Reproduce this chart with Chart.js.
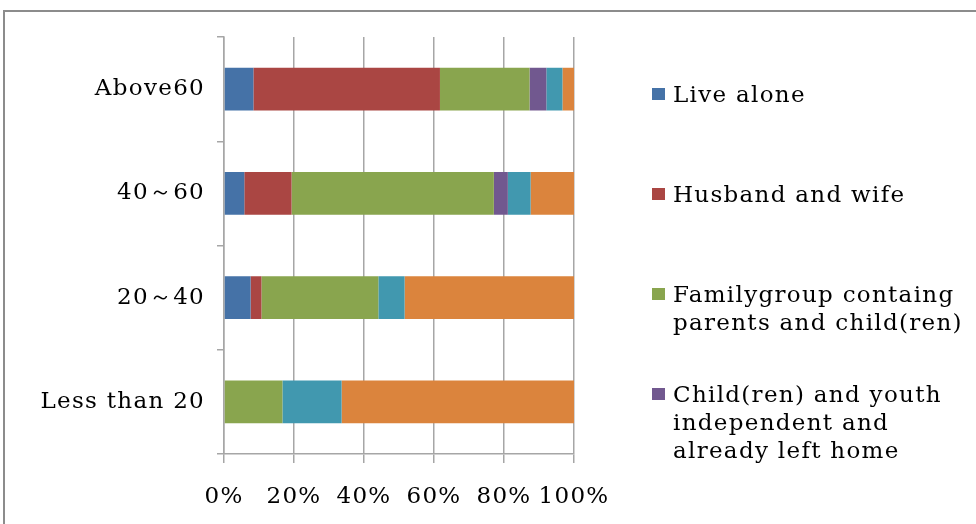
<!DOCTYPE html>
<html>
<head>
<meta charset="utf-8">
<script src="https://cdn.jsdelivr.net/npm/chart.js@4"></script>
<style>
  html, body { margin: 0; padding: 0; background: #fff; }
  #wrap { width: 976px; height: 524px; }
</style>
</head>
<body>
<div id="wrap"><canvas id="household"></canvas></div>
<script>
// age groups (top to bottom) and share of each household type, in %
const ageGroups = ['Above60', '40～60', '20～40', 'Less than 20'];
const liveAlone   = [8.4, 5.8, 7.6, 0];
const husbandWife = [53.3, 13.5, 3.1, 0];
const familyGroup = [25.6, 57.8, 33.4, 16.7];
const leftHome    = [4.8, 4.0, 0, 0];
const groupFive   = [4.6, 6.5, 7.5, 16.9];
const groupSix    = [3.3, 12.4, 48.4, 66.4];
const pctTicks = [0, 20, 40, 60, 80, 100];

// legend text, one array of lines per series (only the first four fit)
const legendLines = [
  ['Live alone'],
  ['Husband and wife'],
  ['Familygroup containg', 'parents and child(ren)'],
  ['Child(ren) and youth', 'independent and', 'already left home']
];

const serif = '"DejaVu Serif", "Liberation Serif", serif';
const gridGrey = '#a6a6a6';
const spacing = '1.3px';

// outer frame of the chart box, plus wider letter spacing for all text
const frame = {
  id: 'frame',
  beforeDraw(chart) {
    const ctx = chart.ctx;
    ctx.save();
    ctx.fillStyle = '#fff';
    ctx.fillRect(0, 0, chart.width, chart.height);
    ctx.strokeStyle = '#8c8c8c';
    ctx.lineWidth = 2;
    ctx.strokeRect(4, 11, 1100, 700);
    ctx.restore();
    ctx.letterSpacing = spacing;
  }
};

// legend on the right, drawn by hand so labels can wrap
const sideLegend = {
  id: 'sideLegend',
  afterDraw(chart) {
    const ctx = chart.ctx;
    ctx.save();
    ctx.letterSpacing = spacing;
    ctx.font = '23px ' + serif;
    ctx.textBaseline = 'alphabetic';
    legendLines.forEach((lines, i) => {
      const top = 88 + i * 100;
      ctx.fillStyle = chart.data.datasets[i].backgroundColor;
      ctx.fillRect(652, top, 13, 12);
      ctx.fillStyle = '#000';
      lines.forEach((t, j) => ctx.fillText(t, 673, top + 14 + j * 28));
    });
    ctx.restore();
  }
};

function ds(label, data, color) {
  return { label, data, backgroundColor: color, borderWidth: 0 };
}

new Chart(document.getElementById('household'), {
  type: 'bar',
  data: {
    labels: ageGroups,
    datasets: [
      ds('Live alone', liveAlone, '#4572A7'),
      ds('Husband and wife', husbandWife, '#AA4643'),
      ds('Familygroup containg parents and child(ren)', familyGroup, '#89A54E'),
      ds('Child(ren) and youth independent and already left home', leftHome, '#71588F'),
      ds('Group 5', groupFive, '#4198AF'),
      ds('Group 6', groupSix, '#DB843D')
    ]
  },
  options: {
    indexAxis: 'y',
    responsive: true,
    maintainAspectRatio: false,
    animation: false,
    barPercentage: 0.41,
    categoryPercentage: 1,
    layout: { padding: { left: 0, top: 37, right: 402, bottom: 0 } },
    plugins: {
      legend: { display: false },
      tooltip: { enabled: false }
    },
    scales: {
      x: {
        stacked: true,
        min: 0,
        max: 100,
        afterBuildTicks(scale) {
          scale.ticks = pctTicks.map(v => ({ value: v }));
        },
        afterFit(scale) { scale.height = 70; },
        grid: { color: gridGrey, lineWidth: 1.5, tickLength: 9, drawTicks: true },
        border: { color: gridGrey, width: 1.5 },
        ticks: {
          color: '#000',
          padding: 20,
          autoSkip: false,
          maxRotation: 0,
          minRotation: 0,
          font: { family: serif, size: 23 },
          callback: v => v + '%'
        }
      },
      y: {
        stacked: true,
        afterFit(scale) { scale.width = 224; },
        grid: { offset: true, drawOnChartArea: false, color: gridGrey, lineWidth: 1.5, tickLength: 7 },
        border: { color: gridGrey, width: 1.5 },
        ticks: {
          color: '#000',
          padding: 12,
          font: { family: serif, size: 23 }
        }
      }
    }
  },
  plugins: [frame, sideLegend]
});
</script>
</body>
</html>
